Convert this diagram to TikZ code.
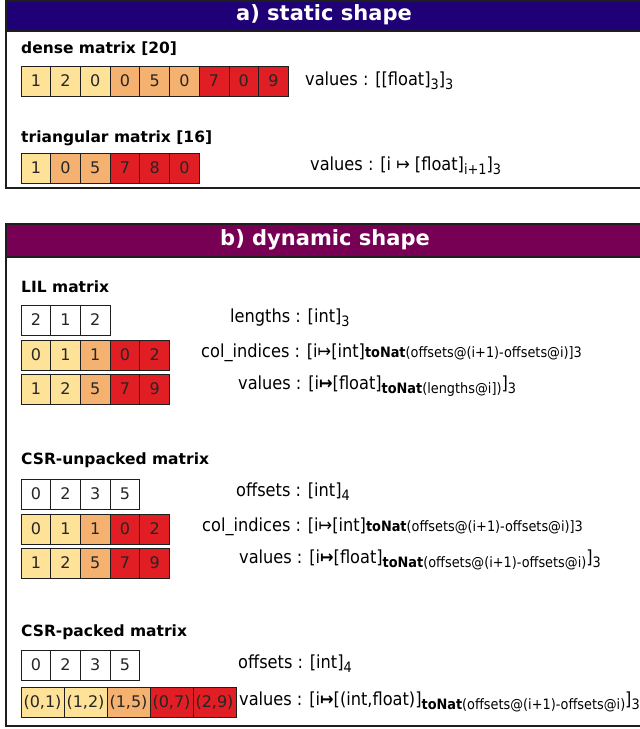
\documentclass[tikz,border=0pt]{standalone}
\usepackage{fontspec}
\setmainfont{DejaVu Sans}
\newfontfamily\condf{DejaVu Sans Condensed}

\definecolor{cLo}{RGB}{254,226,152}
\definecolor{cMid}{RGB}{245,177,112}
\definecolor{cHi}{RGB}{224,30,36}
\definecolor{barA}{RGB}{31,0,119}
\definecolor{barB}{RGB}{119,0,85}
\definecolor{edge}{RGB}{30,30,30}

% lowered small text for subscripts
\newcommand\lo[1]{\raisebox{-0.4ex}{\fontsize{14.3}{15}\selectfont #1}}
% small inline text on the baseline
\newcommand\sm[1]{{\fontsize{14.3}{15}\selectfont #1}}
\newcommand\tnat{\textbf{toNat}}

% one row of cells: name prefix, left x, top y, cell width, list value/colour
\newcommand\cellrow[5]{%
  \foreach \v/\c [count=\i from 0] in {#5}
    \node[cellbox, fill=\c, minimum width=#4pt] (#1\i)
      at ({#2+(\i+0.5)*#4},{#3+15}) {\v};}

\begin{document}
\begin{tikzpicture}[x=1pt,y=-1pt,
  cellbox/.style={draw=edge, line width=0.8pt, minimum height=30pt,
    inner sep=0pt, text=black!85, font=\fontsize{16}{16}\selectfont},
  paneltitle/.style={text=white, font=\bfseries\fontsize{21}{21}\selectfont},
  heading/.style={anchor=west, inner sep=0pt, font=\bfseries\fontsize{15.5}{16}\selectfont},
  typ/.style={anchor=west, inner sep=0pt, font=\condf\fontsize{18}{18}\selectfont},
  panel/.style={draw=edge, line width=1.5pt, fill=white}]
\useasboundingbox (0,0) rectangle (640,729);
\clip (0,0) rectangle (640,729);

% ---- a) static shape ----
\draw[panel] (6,1) rectangle (680,188);
\draw[edge, line width=1.5pt, fill=barA] (6,1) rectangle (680,31);
\node[paneltitle] (ta) at (324,15) {a) static shape};

\node[heading] (hd) at (21,49) {dense matrix [20]};
\cellrow{d}{21}{66}{29.7}{1/cLo,2/cLo,0/cLo,0/cMid,5/cMid,0/cMid,7/cHi,0/cHi,9/cHi}
\node[typ] (vd) at (305,81) {values : [[float]\lo{3}]\lo{3}};

\node[heading] (ht) at (21,138) {triangular matrix [16]};
\cellrow{t}{21}{153}{29.7}{1/cLo,0/cMid,5/cMid,7/cHi,8/cHi,0/cHi}
\node[typ] (vt) at (310,166) {values : [i ↦ [float]\lo{i+1}]\lo{3}};

% ---- b) dynamic shape ----
\draw[panel] (6,224) rectangle (680,726);
\draw[edge, line width=1.5pt, fill=barB] (6,224) rectangle (680,257);
\node[paneltitle] (tb) at (325,240) {b) dynamic shape};

% LIL
\node[heading] (hl) at (21,287) {LIL matrix};
\cellrow{ll}{21}{305}{29.7}{2/white,1/white,2/white}
\cellrow{lc}{21}{340}{29.7}{0/cLo,1/cLo,1/cMid,0/cHi,2/cHi}
\cellrow{lv}{21}{374}{29.7}{1/cLo,2/cLo,5/cMid,7/cHi,9/cHi}
\node[typ] (lt1) at (230,318) {lengths : [int]\lo{3}};
\node[typ] (lt2) at (201,353) {col\_indices : [i↦[int]\sm{\tnat(offsets@(i+1)-offsets@i)]3}};
\node[typ] (lt3) at (238,386) {values : [i\textbf{↦}[float]\lo{\tnat(lengths@i])}]\lo{3}};

% CSR unpacked
\node[heading] (hu) at (21,460) {CSR-unpacked matrix};
\cellrow{uo}{21}{479}{29.7}{0/white,2/white,3/white,5/white}
\cellrow{uc}{21}{514}{29.7}{0/cLo,1/cLo,1/cMid,0/cHi,2/cHi}
\cellrow{uv}{21}{548}{29.7}{1/cLo,2/cLo,5/cMid,7/cHi,9/cHi}
\node[typ] (ut1) at (236,492) {offsets : [int]\lo{4}};
\node[typ] (ut2) at (202,527) {col\_indices : [i↦[int]\sm{\tnat(offsets@(i+1)-offsets@i)]3}};
\node[typ] (ut3) at (239,560) {values : [i\textbf{↦}[float]\lo{\tnat(offsets@(i+1)-offsets@i)}]\lo{3}};

% CSR packed
\node[heading] (hp) at (21,632) {CSR-packed matrix};
\cellrow{po}{21}{650}{29.7}{0/white,2/white,3/white,5/white}
\cellrow{pv}{21}{687}{43}{(0{,}1)/cLo,(1{,}2)/cLo,(1{,}5)/cMid,(0{,}7)/cHi,(2{,}9)/cHi}
\node[typ] (pt1) at (238,664) {offsets : [int]\lo{4}};
\node[typ] (pt2) at (239,702) {values : [i\textbf{↦}[(int,float)]\lo{\tnat(offsets@(i+1)-offsets@i)}]\lo{3}};
\end{tikzpicture}
\end{document}
